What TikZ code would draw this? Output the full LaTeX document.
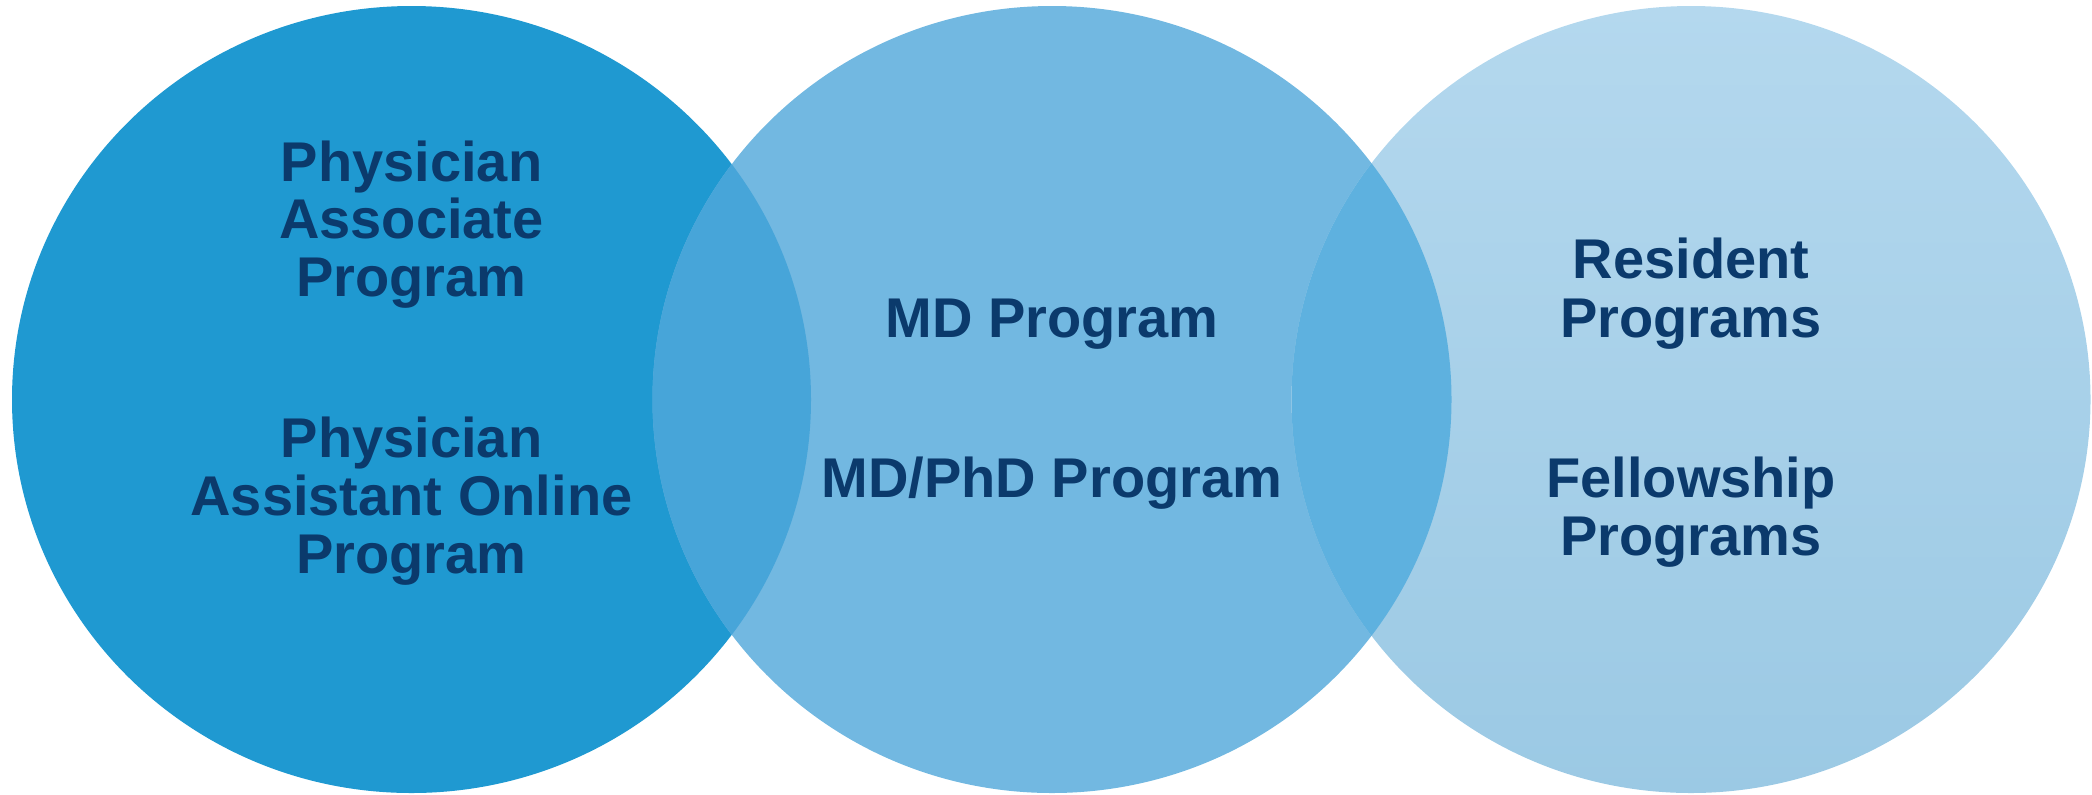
\documentclass[tikz,border=0pt]{standalone}
\usepackage{fontspec}
\setmainfont{Liberation Sans}
\definecolor{cLeft}{HTML}{1F99D1}
\definecolor{cOvA}{HTML}{47A5D9}
\definecolor{cMid}{HTML}{72B8E1}
\definecolor{cOvB}{HTML}{5EB1DF}
\definecolor{cRtop}{HTML}{B4D8EE}
\definecolor{cRmid}{HTML}{A6D4EF}
\definecolor{cRbot}{HTML}{9BC9E4}
\definecolor{cText}{HTML}{0B3A6C}
\begin{document}
\begin{tikzpicture}[x=0.5pt,y=-0.5pt,
  lbl/.style={anchor=base, inner sep=0pt, text=cText, font=\fontsize{28}{29}\selectfont\bfseries},
  circ/.style={x radius=399.5, y radius=393.5}]
\useasboundingbox (0,0) rectangle (2092,794);
% circles
\fill[cLeft] (411.5,399.5) ellipse [circ];
\fill[cMid] (1052,399.5) ellipse [circ];
\shade[top color=cRtop, middle color=cRmid, bottom color=cRbot] (1691,399.5) ellipse [circ];
% overlaps
\begin{scope}
  \clip (411.5,399.5) ellipse [circ];
  \fill[cOvA] (1052,399.5) ellipse [circ];
\end{scope}
\begin{scope}
  \clip (1052,399.5) ellipse [circ];
  \fill[cOvB] (1691,399.5) ellipse [circ];
\end{scope}
% left circle texts
\node[lbl] (pa1) at (411.5,181) {Physician};
\node[lbl] (pa2) at (411.5,238.5) {Associate};
\node[lbl] (pa3) at (411.5,296) {Program};
\node[lbl] (po1) at (411.5,457) {Physician};
\node[lbl] (po2) at (411.5,515) {Assistant Online};
\node[lbl] (po3) at (411.5,573) {Program};
% middle circle texts
\node[lbl] (md) at (1052,337) {MD Program};
\node[lbl] (mdphd) at (1052,497) {MD/PhD Program};
% right circle texts
\node[lbl] (rp1) at (1691,278) {Resident};
\node[lbl] (rp2) at (1691,337) {Programs};
\node[lbl] (fp1) at (1691,497) {Fellowship};
\node[lbl] (fp2) at (1691,555) {Programs};
\end{tikzpicture}
\end{document}
